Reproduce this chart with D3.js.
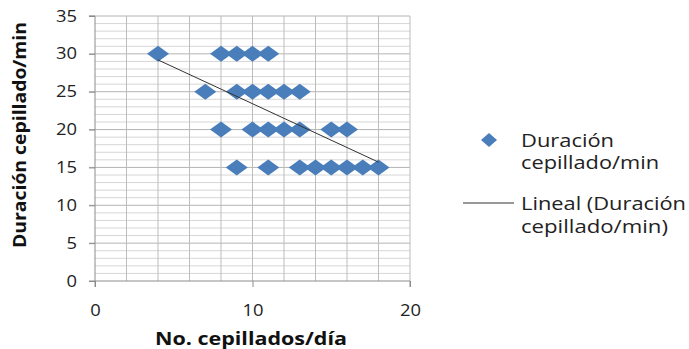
<!doctype html>
<html>
<head>
<meta charset="utf-8">
<script src="https://cdnjs.cloudflare.com/ajax/libs/d3/7.8.5/d3.min.js"></script>
<style>
  body { margin: 0; background: #fff; font-family: "Open Sans", Arial, sans-serif; }
</style>
</head>
<body>
<div id="chart"></div>
<script>
  // data
  var xVals30 = [4, 8, 9, 10, 11]
  var xVals25 = [7, 9, 10, 11, 12, 13]
  var xVals20 = [8, 10, 11, 12, 13, 15, 16]
  var xVals15 = [9, 11, 13, 14, 15, 16, 17, 18]
  var rows = [30, 25, 20, 15]
  var trendX = [4, 18]
  var trendY = [29.2, 15.7]
  var xTicks = [0, 10, 20]
  var yTicks = [0, 5, 10, 15, 20, 25, 30, 35]

  var W = 689, H = 349
  var margin = { top: 16, left: 95, right: 279, bottom: 68 }
  var width = W - margin.left - margin.right
  var height = H - margin.top - margin.bottom

  var svg = d3.select('#chart').append('svg')
    .attr('width', W).attr('height', H)

  var g = svg.append('g')
    .attr('transform', `translate(${margin.left},${margin.top})`)

  var x = d3.scaleLinear().domain([0, 20]).range([0, width])
  var y = d3.scaleLinear().domain([0, 35]).range([height, 0])

  var points = []
  ;[xVals30, xVals25, xVals20, xVals15].forEach((xs, i) => {
    xs.forEach(v => points.push({ x: v, y: rows[i] }))
  })

  // minor horizontal grid every 1
  g.append('g').selectAll('line')
    .data(d3.range(1, 35).filter(d => d % 5 !== 0))
    .enter().append('line')
    .attr('x1', 0).attr('x2', width)
    .attr('y1', d => y(d)).attr('y2', d => y(d))
    .attr('stroke', '#d6d6d6')

  // major horizontal grid
  g.append('g').selectAll('line')
    .data(yTicks.slice(1))
    .enter().append('line')
    .attr('x1', -6).attr('x2', width)
    .attr('y1', d => y(d)).attr('y2', d => y(d))
    .attr('stroke', '#b4b4b4')

  // vertical grid every 2
  g.append('g').selectAll('line')
    .data(d3.range(2, 21, 2))
    .enter().append('line')
    .attr('x1', d => x(d)).attr('x2', d => x(d))
    .attr('y1', 0).attr('y2', height)
    .attr('stroke', '#bcbcbc')

  // axes
  var xAxis = g.append('g')
    .attr('transform', `translate(0,${height})`)
    .call(d3.axisBottom(x).tickValues(xTicks).tickSize(6).tickPadding(18))
  var yAxis = g.append('g')
    .call(d3.axisLeft(y).tickValues(yTicks).tickSize(6).tickPadding(12))

  ;[xAxis, yAxis].forEach(a => {
    a.select('.domain').attr('stroke', '#8c8c8c')
    a.selectAll('.tick line').attr('stroke', '#8c8c8c')
    a.selectAll('text')
      .attr('font-family', '"Open Sans", Arial, sans-serif')
      .attr('font-size', 16).attr('fill', '#222')
      .attr('textLength', d => String(d).length * 10.5)
      .attr('lengthAdjust', 'spacingAndGlyphs')
  })
  yAxis.select('.domain').attr('d', `M-6,${height}H0V0H-6`)
  xAxis.select('.domain').attr('d', `M0,6V0H${width}V6`)

  // diamonds
  var diamond = 'M0,-8L11,0L0,8L-11,0Z'
  g.append('g').selectAll('path')
    .data(points)
    .enter().append('path')
    .attr('d', diamond)
    .attr('transform', d => `translate(${x(d.x)},${y(d.y)})`)
    .attr('fill', '#4a7ebb')

  // trend line
  g.append('line')
    .attr('x1', x(trendX[0])).attr('y1', y(trendY[0]))
    .attr('x2', x(trendX[1])).attr('y2', y(trendY[1]))
    .attr('stroke', '#333').attr('stroke-width', 1)

  // axis titles
  svg.append('text')
    .attr('x', 155).attr('y', 345)
    .attr('font-weight', 'bold').attr('font-size', 17).attr('fill', '#111')
    .attr('textLength', 192).attr('lengthAdjust', 'spacingAndGlyphs')
    .text('No. cepillados/día')

  svg.append('text')
    .attr('transform', 'translate(26,248) rotate(-90)')
    .attr('font-weight', 'bold').attr('font-size', 17).attr('fill', '#111')
    .attr('textLength', 226).attr('lengthAdjust', 'spacingAndGlyphs')
    .text('Duración cepillado/min')

  // legend
  var leg = svg.append('g').attr('font-size', 18).attr('fill', '#222')
  leg.append('path').attr('d', 'M0,-7L8,0L0,7L-8,0Z')
    .attr('transform', 'translate(489,140)').attr('fill', '#4a7ebb')
  var legLines = [
    { t: 'Duración', y: 147, w: 93 },
    { t: 'cepillado/min', y: 169, w: 138 },
    { t: 'Lineal (Duración', y: 210, w: 165 },
    { t: 'cepillado/min)', y: 233, w: 147 }
  ]
  legLines.forEach(l => {
    leg.append('text').attr('x', 521).attr('y', l.y)
      .attr('textLength', l.w).attr('lengthAdjust', 'spacingAndGlyphs')
      .text(l.t)
  })

  leg.append('line').attr('x1', 463).attr('x2', 514)
    .attr('y1', 203).attr('y2', 203).attr('stroke', '#333')
</script>
</body>
</html>
